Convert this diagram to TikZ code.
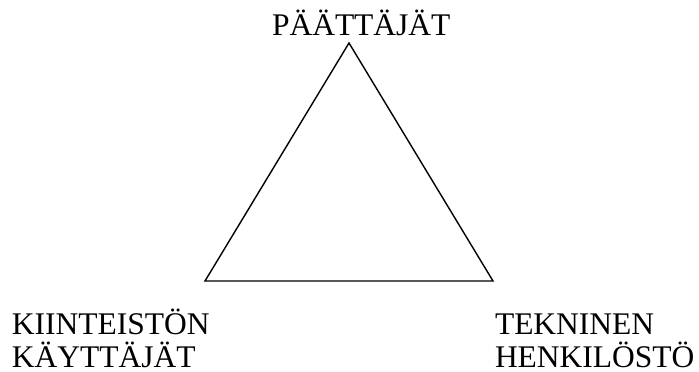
\documentclass[tikz,border=0pt]{standalone}
\usepackage{fontspec}
\setmainfont{Liberation Serif}
\begin{document}
\begin{tikzpicture}[x=1pt,y=-1pt,
  lbl/.style={inner sep=0pt,outer sep=0pt,anchor=base west,align=left,
    text depth=0pt,font=\fontsize{31.5}{33}\selectfont},
  edge/.style={line width=1.4pt,line join=miter}]
\useasboundingbox (0,0) rectangle (699,372);
\coordinate (top) at (349,43);
\coordinate (bl) at (205,281);
\coordinate (br) at (493,281);
\draw[edge] (top) -- (bl) -- (br) -- cycle;
\node[lbl] (paat) at (272,35) {PÄÄTTÄJÄT};
\node[lbl] (kiin) at (12,367) {KIINTEISTÖN\\KÄYTTÄJÄT};
\node[lbl] (tekn) at (495,367) {TEKNINEN\\HENKILÖSTÖ};
\end{tikzpicture}
\end{document}
